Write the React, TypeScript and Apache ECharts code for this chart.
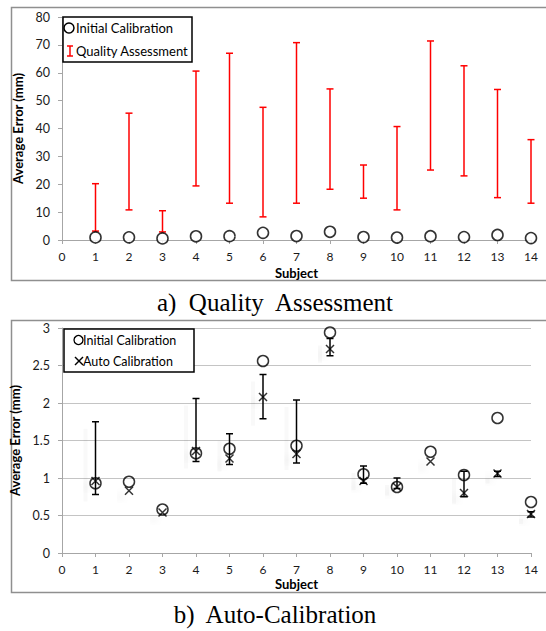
import React, { useEffect, useRef } from "react";
import * as echarts from "echarts";

// ---- data ----
const subjects = [1, 2, 3, 4, 5, 6, 7, 8, 9, 10, 11, 12, 13, 14];
const xTicks = [0, 1, 2, 3, 4, 5, 6, 7, 8, 9, 10, 11, 12, 13, 14];
const initialCal = [0.93, 0.95, 0.58, 1.33, 1.39, 2.56, 1.43, 2.94, 1.05, 0.88, 1.35, 1.04, 1.8, 0.68];
const qaLow = [3.2, 10.8, 2.9, 19.4, 13.2, 8.3, 13.2, 18.2, 15.0, 10.8, 25.1, 23.0, 15.2, 13.2];
const qaHigh = [20.2, 45.5, 10.5, 60.6, 67.0, 47.6, 70.8, 54.2, 26.9, 40.7, 71.4, 62.5, 54.0, 36.0];
const autoCal = [0.96, 0.83, 0.54, 1.36, 1.26, 2.08, 1.32, 2.72, 0.96, 0.88, 1.22, 0.8, 1.06, 0.52];
const autoLow: (number | null)[] = [0.78, null, null, 1.22, 1.18, 1.79, 1.2, 2.63, 0.93, 0.86, null, 0.75, 1.02, 0.48];
const autoHigh: (number | null)[] = [1.75, null, null, 2.06, 1.59, 2.38, 2.04, 2.86, 1.16, 1.0, null, 1.09, 1.09, 0.55];
const topYTicks = { min: 0, max: 80, interval: 10 };
const botYTicks = { min: 0, max: 3, interval: 0.5 };

const FONT = "Lato";
const AXIS_GREY = "#a6a6a6";

function errorBarRenderer(color: string, half: number, shadow: boolean) {
  return (params: any, api: any) => {
    const x = api.value(0);
    const lo = api.value(1);
    const hi = api.value(2);
    const t = api.coord([x, hi]);
    const b = api.coord([x, lo]);
    const style: any = { stroke: color, lineWidth: 1.5 };
    const children: any[] = [];
    if (shadow) {
      children.push({
        type: "rect",
        shape: { x: t[0] - 12, y: t[1] + 7, width: 4, height: Math.max(b[1] - t[1], 4) },
        style: {
          fill: "rgba(0,0,0,0.025)",
          shadowColor: "rgba(0,0,0,0.09)",
          shadowBlur: 8,
        },
      });
    }
    children.push(
      { type: "line", shape: { x1: t[0], y1: t[1], x2: b[0], y2: b[1] }, style },
      { type: "line", shape: { x1: t[0] - half, y1: t[1], x2: t[0] + half, y2: t[1] }, style },
      { type: "line", shape: { x1: b[0] - half, y1: b[1], x2: b[0] + half, y2: b[1] }, style }
    );
    return { type: "group", children };
  };
}

const xAxisBase = (gridIndex: number, nameGap: number) => ({
  type: "value",
  gridIndex,
  min: xTicks[0],
  max: xTicks[xTicks.length - 1],
  interval: 1,
  axisLine: { show: true, onZero: false, lineStyle: { color: AXIS_GREY, width: 1 } },
  axisTick: { show: true, length: 4, lineStyle: { color: AXIS_GREY } },
  axisLabel: { fontFamily: FONT, fontSize: 12, color: "#1a1a1a", margin: 10 },
  splitLine: { show: false },
  name: "Subject",
  nameLocation: "middle",
  nameGap,
  nameTextStyle: { fontFamily: FONT, fontWeight: "bold", fontSize: 13, color: "#000" },
});

const yAxisBase = (gridIndex: number, ticks: any, grid: boolean) => ({
  type: "value",
  gridIndex,
  min: ticks.min,
  max: ticks.max,
  interval: ticks.interval,
  axisLine: { show: true, lineStyle: { color: AXIS_GREY, width: 1 } },
  axisTick: { show: true, length: 4, lineStyle: { color: AXIS_GREY } },
  axisLabel: { fontFamily: FONT, fontSize: 12.5, color: "#1a1a1a", margin: 12 },
  splitLine: { show: grid, lineStyle: { color: "#c4c4c4", width: 1 } },
  name: "Average Error (mm)",
  nameLocation: "middle",
  nameGap: 30,
  nameRotate: 90,
  nameTextStyle: { fontFamily: FONT, fontWeight: "bold", fontSize: 13, color: "#000" },
});

export default function App() {
  const ref = useRef<HTMLDivElement>(null);
  useEffect(() => {
    if (!ref.current) return;
    const chart = echarts.init(ref.current, undefined, { renderer: "svg" });
    const qaData = subjects.map((s, i) => [s, qaLow[i], qaHigh[i]]);
    const autoErr = subjects
      .map((s, i) => [s, autoLow[i], autoHigh[i]])
      .filter((d) => d[1] != null && d[2] != null);
    const legendText = (x: number, y: number, text: string, size: number) => ({
      type: "text",
      x,
      y,
      z: 101,
      style: { text, fontFamily: FONT, fontSize: size, fill: "#000", verticalAlign: "middle", align: "left" },
    });
    const line = (x1: number, y1: number, x2: number, y2: number, stroke: string) => ({
      type: "line",
      z: 101,
      shape: { x1, y1, x2, y2 },
      style: { stroke, lineWidth: 1.5 },
    });
    chart.setOption({
      animation: false,
      backgroundColor: "#fff",
      grid: [
        { left: 62, top: 17, width: 469, height: 223 },
        { left: 62, top: 328, width: 469, height: 225 },
      ],
      xAxis: [xAxisBase(0, 26), xAxisBase(1, 24)],
      yAxis: [yAxisBase(0, topYTicks, false), yAxisBase(1, botYTicks, true)],
      series: [
        {
          name: "Quality Assessment",
          type: "custom",
          xAxisIndex: 0,
          yAxisIndex: 0,
          renderItem: errorBarRenderer("#ff0000", 3.5, false),
          encode: { x: 0, y: [1, 2] },
          data: qaData,
          z: 2,
        },
        {
          name: "Initial Calibration",
          type: "scatter",
          xAxisIndex: 0,
          yAxisIndex: 0,
          symbol: "circle",
          symbolSize: 11,
          itemStyle: { color: "#fff", borderColor: "#000", borderWidth: 1.6 },
          data: subjects.map((s, i) => [s, initialCal[i]]),
          z: 3,
        },
        {
          name: "Auto Error",
          type: "custom",
          xAxisIndex: 1,
          yAxisIndex: 1,
          renderItem: errorBarRenderer("#000", 3.5, true),
          encode: { x: 0, y: [1, 2] },
          data: autoErr,
          z: 2,
        },
        {
          name: "Initial Calibration b",
          type: "scatter",
          xAxisIndex: 1,
          yAxisIndex: 1,
          symbol: "circle",
          symbolSize: 11,
          itemStyle: { color: "rgba(0,0,0,0)", borderColor: "#000", borderWidth: 1.5 },
          data: subjects.map((s, i) => [s, initialCal[i]]),
          z: 3,
        },
        {
          name: "Auto Calibration",
          type: "scatter",
          xAxisIndex: 1,
          yAxisIndex: 1,
          symbol: "path://M0 0L10 10M10 0L0 10",
          symbolSize: 8,
          itemStyle: {
            color: "rgba(0,0,0,0)",
            borderColor: "#000",
            borderWidth: 1.5,
            shadowColor: "rgba(0,0,0,0.08)",
            shadowBlur: 6,
            shadowOffsetX: -9,
            shadowOffsetY: 6,
          },
          data: subjects.map((s, i) => [s, autoCal[i]]),
          z: 4,
        },
      ],
      graphic: [
        // panel borders
        { type: "rect", z: -1, shape: { x: 11.5, y: 7.5, width: 540, height: 273 }, style: { fill: "none", stroke: "#8f8f8f", lineWidth: 1.5 } },
        { type: "rect", z: -1, shape: { x: 11.5, y: 320.5, width: 540, height: 272 }, style: { fill: "none", stroke: "#8f8f8f", lineWidth: 1.5 } },
        // top legend
        { type: "rect", z: 100, shape: { x: 63, y: 17, width: 129, height: 45 }, style: { fill: "#fff", stroke: "#000", lineWidth: 1.5 } },
        { type: "circle", z: 101, shape: { cx: 69, cy: 28, r: 5 }, style: { fill: "none", stroke: "#000", lineWidth: 1.5 } },
        legendText(76, 28, "Initial Calibration", 13),
        line(70, 46, 70, 56, "#ff0000"),
        line(67, 46, 73, 46, "#ff0000"),
        line(67, 56, 73, 56, "#ff0000"),
        legendText(76, 51, "Quality Assessment", 13),
        // bottom legend
        { type: "rect", z: 100, shape: { x: 64, y: 329, width: 130, height: 43 }, style: { fill: "#fff", stroke: "#000", lineWidth: 1.5 } },
        { type: "circle", z: 101, shape: { cx: 78.5, cy: 340, r: 4.5 }, style: { fill: "none", stroke: "#000", lineWidth: 1.3 } },
        legendText(83, 340, "Initial Calibration", 12.5),
        line(75, 357, 83, 365, "#000"),
        line(83, 357, 75, 365, "#000"),
        legendText(83, 361, "Auto Calibration", 12.5),
        // captions
        {
          type: "text",
          x: 275,
          y: 302,
          style: { text: "a)  Quality  Assessment", fontFamily: "Liberation Serif", fontSize: 25, fill: "#000", align: "center", verticalAlign: "middle" },
        },
        {
          type: "text",
          x: 275,
          y: 614,
          style: { text: "b)  Auto-Calibration", fontFamily: "Liberation Serif", fontSize: 25, fill: "#000", align: "center", verticalAlign: "middle" },
        },
      ],
    });
    return () => chart.dispose();
  }, []);
  return <div ref={ref} style={{ position: "absolute", left: 0, top: 0, width: 546, height: 631 }} />;
}
